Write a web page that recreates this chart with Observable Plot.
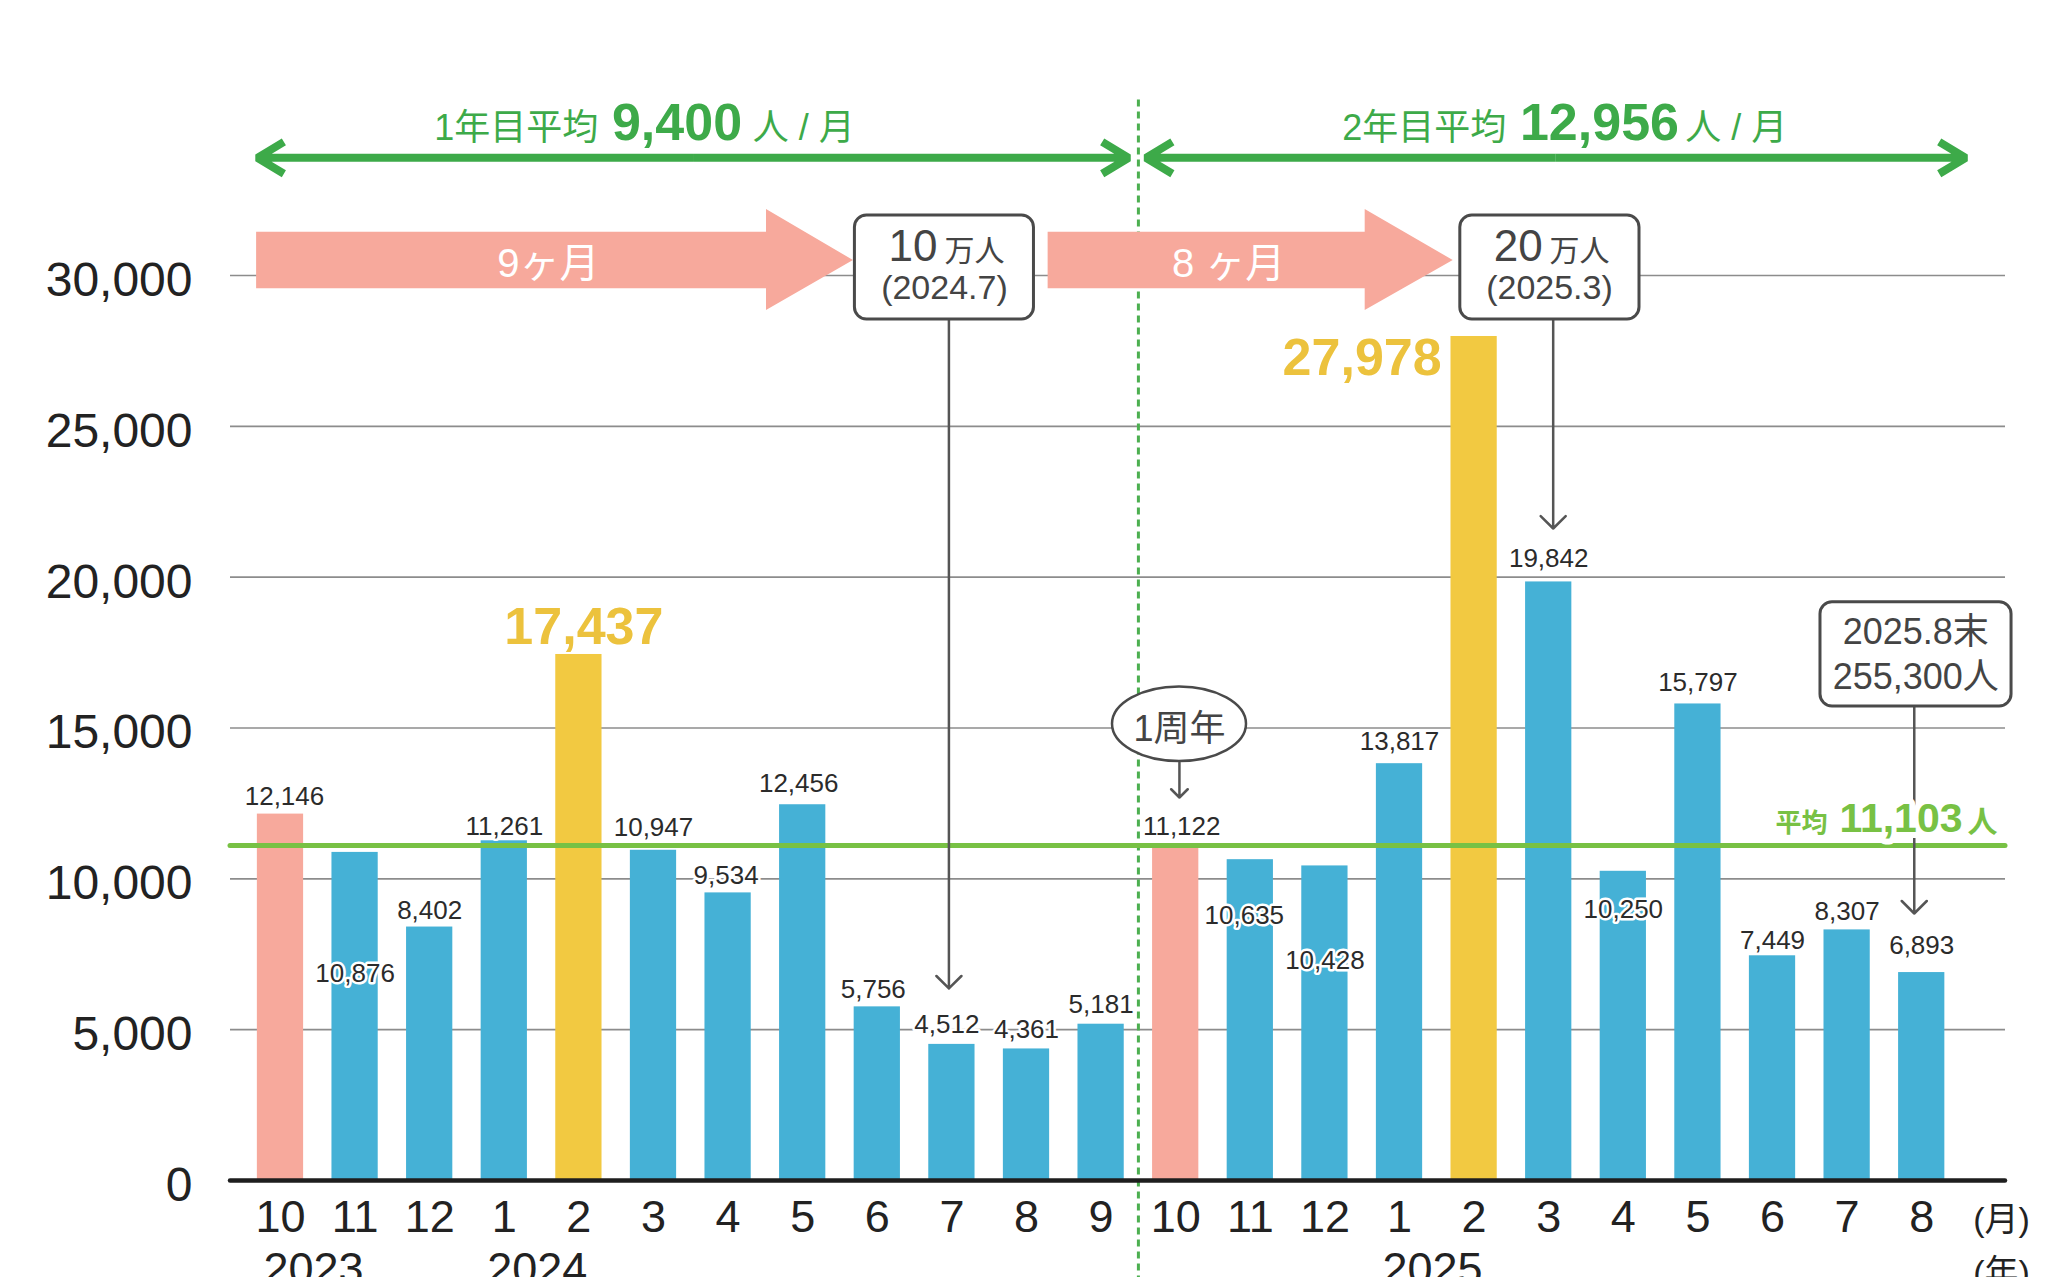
<!DOCTYPE html>
<html><head><meta charset="utf-8">
<script src="https://cdn.jsdelivr.net/npm/d3@7"></script>
<script src="https://cdn.jsdelivr.net/npm/@observablehq/plot@0.6"></script>
<style>
html,body{margin:0;padding:0;background:#fff;overflow:hidden;}
#chart svg{display:block;}
</style></head><body><div id="chart"></div>
<script>
// ---- data ----
const months   = [10,11,12,1,2,3,4,5,6,7,8,9,10,11,12,1,2,3,4,5,6,7,8];
const years    = [2023,2023,2023,2024,2024,2024,2024,2024,2024,2024,2024,2024,2024,2024,2024,2025,2025,2025,2025,2025,2025,2025,2025];
const visitors = [12146,10876,8402,11261,17437,10947,9534,12456,5756,4512,4361,5181,11122,10635,10428,13817,27978,19842,10250,15797,7449,8307,6893];
const yTicks   = [0,5000,10000,15000,20000,25000,30000];
const average  = 11103;
const periodStart = [0, 12];               // index where each "year" period starts
const periodLabels = ["1年目平均", "2年目平均"];
const periodAverages = ["9,400", "12,956"];
const durationLabels = ["9ヶ月", "8 ヶ月"];
const milestoneBig = ["10", "20"];
const milestoneDate = ["(2024.7)", "(2025.3)"];
const totalLines = ["2025.8末", "255,300人"];

// ---- layout (annotation positions in data space; label offsets in px) ----
const labelDy = [-17,121,-16,-14,-27,-23,-17,-21,-17,-20,-19,-19.5,-18,56,95,-22,22,-23,38,-21,-15.5,-18.5,-27];
const labelDx = [4,0,0,0,5,0,-2,-4,-4,-5,0,0,6,-6,0,0,-112,0,0,0,0,0,0];
const headerY = 34500, spanArrowY = 33900;
const spanArrows = [[-0.31, 11.37], [11.6, 22.59]];
const headerPos = [{lab: 4.26, val: 5.315, unit: 6.33}, {lab: 16.43, val: 17.68, unit: 18.83}];
const pinkArrows = [{x0: -0.32, xh: 6.515, xt: 7.68, tx: 3.59}, {x0: 10.29, xh: 14.54, xt: 15.72, tx: 12.71}];
const pinkBody = [29559, 31436], pinkHead = [28840, 32188], pinkTip = 30497, pinkTextY = 29934;
const boxes = [
  {x1: 7.70, x2: 10.10, y1: 28541, y2: 31989},
  {x1: 15.815, x2: 18.217, y1: 28541, y2: 31989},
  {x1: 20.643, x2: 23.204, y1: 15713, y2: 19170}
];
const boxText = [{end: 8.807, start: 8.90, mid: 8.90}, {end: 16.92, start: 17.01, mid: 17.01}];
const boxLine1Y = 30497, boxLine2Y = 29237;
const totalX = 21.92, totalY = [17801, 16309];
const pointers = [
  {x: 8.96, y1: 28541, y2: 6365},
  {x: 17.06, y1: 28574, y2: 21613},
  {x: 21.90, y1: 15713, y2: 8851},
  {x: 12.05, y1: 13856, y2: 12696}
];
const ellipse = {x1: 11.153, x2: 12.949, y1: 13890, y2: 16359, cx: 12.05, ty: 14553};
const avgLabel = {y: 11536, a: 20.737, b: 22.547, c: 23.016};
const dividerX = 11.5, dividerY = [-3400, 35930];

// ---- colours ----
const PINK = "#f7a99c", BLUE = "#45b1d6", YELLOW = "#f2c941", GREEN = "#3daa49", LIGHTGREEN = "#78c144", GRAY = "#4a4a4a";
const FONT = '"Liberation Sans", "Noto Sans CJK JP", sans-serif';
const NARROW = '"Liberation Sans Narrow", "Liberation Sans", "Noto Sans CJK JP", sans-serif';

const data = visitors.map((v, i) => ({i, month: months[i], year: years[i], value: v, period: i >= periodStart[1] ? 1 : 0}));
const periodMax = [0, 1].map(p => d3.max(data.filter(d => d.period === p), d => d.value));
const barColor = d => d.month === 10 ? PINK : (d.value === periodMax[d.period] ? YELLOW : BLUE);
const isBig = d => d.value === periodMax[d.period];

const yearStarts = data.filter((d, i) => i === 0 || d.year !== data[i - 1].year);

const pinkPolys = pinkArrows.map(a => [
  {x: a.x0, lo: pinkBody[0], hi: pinkBody[1]},
  {x: a.xh, lo: pinkBody[0], hi: pinkBody[1]},
  {x: a.xh, lo: pinkHead[0], hi: pinkHead[1]},
  {x: a.xt, lo: pinkTip, hi: pinkTip}
]);

const marks = [
  // gridlines
  Plot.ruleY(yTicks.filter(t => t > 0), {stroke: "#8c8c8c", strokeWidth: 1.6}),
  // divider
  Plot.ruleX([dividerX], {y1: dividerY[0], y2: dividerY[1], stroke: "#4caf50", strokeWidth: 3, strokeDasharray: "7,5"}),
  // bars
  Plot.rect(data, {x1: d => d.i - 0.31, x2: d => d.i + 0.31, y1: 0, y2: "value", fill: barColor}),
  // baseline
  Plot.ruleY([0], {stroke: "#1e1e1e", strokeWidth: 4.5, strokeLinecap: "round"}),
  // average line
  Plot.ruleY([average], {stroke: LIGHTGREEN, strokeWidth: 5, strokeLinecap: "round"}),
  // axes
  Plot.axisY({ticks: yTicks, tickFormat: d3.format(","), tickSize: 0, tickPadding: 38, dy: 5, fontSize: 48, label: null, color: "#222", fontFamily: FONT}),
  Plot.axisX({ticks: d3.range(data.length), tickFormat: i => months[i], tickSize: 0, tickPadding: 20, fontSize: 45, label: null, color: "#222", fontFamily: NARROW}),
  Plot.text(yearStarts, {x: "i", y: 0, text: d => String(d.year), dy: 103, dx: -17, textAnchor: "start", lineAnchor: "bottom", fontSize: 45, fill: "#222", fontFamily: NARROW}),
  Plot.text(["(月)"], {x: 23.07, y: 0, text: d => d, dy: 50, lineAnchor: "bottom", fontSize: 34, fill: "#222"}),
  Plot.text(["(年)"], {x: 23.07, y: 0, text: d => d, dy: 103, lineAnchor: "bottom", fontSize: 34, fill: "#222"}),
  // green span arrows (double-headed)
  ...spanArrows.flatMap(([a, b]) => {
    const m = (a + b) / 2;
    return [
      Plot.arrow([[m, a]], {x1: d => d[0], x2: d => d[1], y1: spanArrowY, y2: spanArrowY, stroke: GREEN, strokeWidth: 8, headLength: 5.8, headAngle: 62, strokeLinejoin: "miter", strokeLinecap: "butt"}),
      Plot.arrow([[m, b]], {x1: d => d[0], x2: d => d[1], y1: spanArrowY, y2: spanArrowY, stroke: GREEN, strokeWidth: 8, headLength: 5.8, headAngle: 62, strokeLinejoin: "miter", strokeLinecap: "butt"})
    ];
  }),
  // header texts
  ...headerPos.flatMap((p, k) => [
    Plot.text([periodLabels[k]], {x: p.lab, y: headerY, text: d => d, textAnchor: "end", lineAnchor: "bottom", fontSize: 36, fill: GREEN, fontFamily: FONT}),
    Plot.text([periodAverages[k]], {x: p.val, y: headerY, text: d => d, lineAnchor: "bottom", fontSize: 52, fontWeight: "bold", fill: GREEN, fontFamily: FONT}),
    Plot.text(["人 / 月"], {x: p.unit, y: headerY, text: d => d, textAnchor: "start", lineAnchor: "bottom", fontSize: 36, fill: GREEN, fontFamily: FONT})
  ]),
  // pink duration arrows
  ...pinkPolys.map(poly => Plot.area(poly, {x1: "x", y1: "lo", y2: "hi", fill: PINK, curve: "linear"})),
  ...pinkArrows.map((a, k) => Plot.text([durationLabels[k]], {x: a.tx, y: pinkTextY, text: d => d, lineAnchor: "bottom", fontSize: 40, fill: "white", fontFamily: FONT})),
  // pointer arrows
  Plot.arrow(pointers, {x1: "x", x2: "x", y1: "y1", y2: "y2", stroke: "#555", strokeWidth: 2.5, headAngle: 90, headLength: 10.6}),
  // boxes
  Plot.rect(boxes, {x1: "x1", x2: "x2", y1: "y1", y2: "y2", fill: "white", stroke: GRAY, strokeWidth: 3, rx: 12, ry: 12}),
  ...boxText.flatMap((b, k) => [
    Plot.text([milestoneBig[k]], {x: b.end, y: boxLine1Y, text: d => d, textAnchor: "end", lineAnchor: "bottom", fontSize: 44, fill: "#444", fontFamily: FONT}),
    Plot.text(["万人"], {x: b.start, y: boxLine1Y, text: d => d, textAnchor: "start", lineAnchor: "bottom", fontSize: 30, fill: "#444", fontFamily: FONT}),
    Plot.text([milestoneDate[k]], {x: b.mid, y: boxLine2Y, text: d => d, lineAnchor: "bottom", fontSize: 34, fill: "#444", fontFamily: FONT})
  ]),
  Plot.text(totalLines, {x: totalX, y: (d, i) => totalY[i], text: d => d, lineAnchor: "bottom", fontSize: 36, fill: "#444", fontFamily: FONT}),
  // 1周年 ellipse
  Plot.rect([ellipse], {x1: "x1", x2: "x2", y1: "y1", y2: "y2", fill: "white", stroke: GRAY, strokeWidth: 2.5, rx: 67, ry: 37.5}),
  Plot.text(["1周年"], {x: ellipse.cx, y: ellipse.ty, text: d => d, lineAnchor: "bottom", fontSize: 36, fill: "#444", fontFamily: FONT}),
  // average label
  Plot.text(["平均"], {x: avgLabel.a, y: avgLabel.y, text: d => d, textAnchor: "end", lineAnchor: "bottom", fontSize: 26, fontWeight: "bold", fill: LIGHTGREEN, stroke: "white", strokeWidth: 8, paintOrder: "stroke", fontFamily: FONT}),
  Plot.text([d3.format(",")(average)], {x: avgLabel.b, y: avgLabel.y, text: d => d, textAnchor: "end", lineAnchor: "bottom", fontSize: 41, fontWeight: "bold", fill: LIGHTGREEN, stroke: "white", strokeWidth: 12, paintOrder: "stroke", fontFamily: FONT}),
  Plot.text(["人"], {x: avgLabel.c, y: avgLabel.y, text: d => d, textAnchor: "end", lineAnchor: "bottom", fontSize: 30, fontWeight: "bold", fill: LIGHTGREEN, stroke: "white", strokeWidth: 8, paintOrder: "stroke", fontFamily: FONT}),
  // value labels
  ...data.map((d, i) => Plot.text([d], {
    x: "i", y: "value", text: v => d3.format(",")(v.value),
    dx: labelDx[i], dy: labelDy[i],
    fontSize: isBig(d) ? 52 : 26, fontWeight: isBig(d) ? "bold" : "normal",
    fill: isBig(d) ? "#ecc23d" : "#2b2b2b",
    stroke: "white", strokeWidth: isBig(d) ? 0 : 5, paintOrder: "stroke", fontFamily: FONT
  }))
];

const chart = Plot.plot({
  width: 2061, height: 1277,
  marginTop: 275, marginBottom: 97, marginLeft: 230, marginRight: 56,
  x: {type: "linear", domain: [-0.670, 23.123]},
  y: {type: "linear", domain: [0, 30000]},
  style: {fontFamily: FONT, background: "white", overflow: "hidden"},
  marks
});
document.getElementById("chart").append(chart);
</script></body></html>
